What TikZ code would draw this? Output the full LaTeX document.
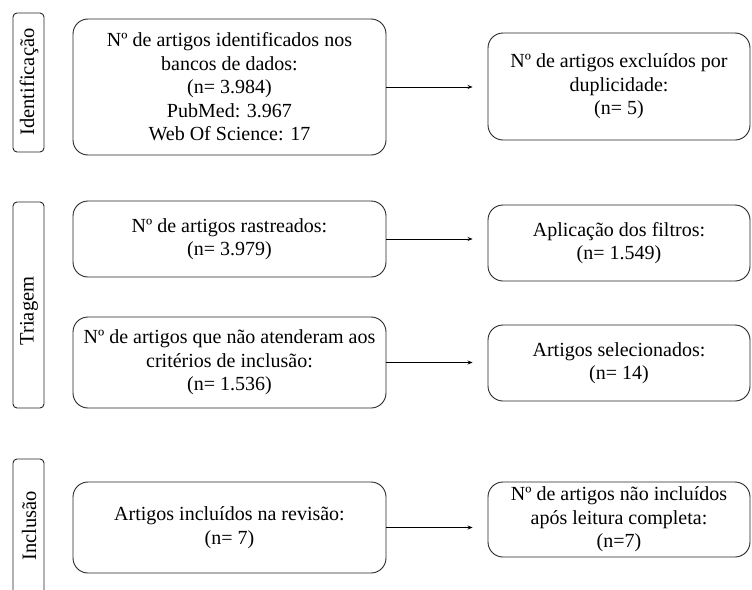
\documentclass[tikz,border=0pt]{standalone}
\usepackage{fontspec}
\setmainfont{Liberation Serif}
\usetikzlibrary{arrows.meta,calc}
\begin{document}
\begin{tikzpicture}[x=1pt,y=-1pt,
  every node/.style={font=\fontsize{20}{23.5}\selectfont},
  flowbox/.style={draw=black!85, line width=0.9pt, rounded corners=15pt, inner sep=0pt, align=center, minimum width=313pt},
  rbox/.style={flowbox, minimum width=262pt},
  phase/.style={draw=black!85, line width=0.9pt, rounded corners=4pt, inner sep=0pt, minimum width=31pt},
  phasetext/.style={rotate=90, font=\fontsize{20.5}{24}\selectfont, inner sep=0pt},
  arr/.style={-{Stealth[length=5pt,width=4pt]}, line width=0.7pt, shorten >=15pt}]
\useasboundingbox (0,0) rectangle (752,589);
% phase labels
\node[phase, minimum height=139pt] (pid) at (28.5,82.5) {};
\node[phasetext] (tid) at (29,82) {Identificação};
\node[phase, minimum height=206pt] (ptr) at (28.5,305) {};
\node[phasetext] (ttr) at (29,311) {Triagem};
\draw[draw=black!85, line width=0.9pt, rounded corners=4pt] (13,640) -- (13,459) -- (44,459) -- (44,640);
\node[phasetext] (tin) at (29,526) {Inclusão};
% boxes
\node[flowbox, minimum height=136pt] (b1) at (229.5,87) {Nº de artigos identificados nos\\bancos de dados:\\(n= 3.984)\\PubMed: 3.967\\Web Of Science: 17};
\node[rbox, minimum height=107pt] (b2) at (619,86.5) {Nº de artigos excluídos por\\duplicidade:\\(n= 5)};
\node[flowbox, minimum height=76pt] (b3) at (229.5,239) {Nº de artigos rastreados:\\(n= 3.979)};
\node[rbox, minimum height=76pt] (b4) at (619,243) {Aplicação dos filtros:\\(n= 1.549)};
\node[flowbox, minimum height=91pt] (b5) at (229.5,362.5) {Nº de artigos que não atenderam aos\\critérios de inclusão:\\(n= 1.536)};
\node[rbox, minimum height=76pt] (b6) at (619,363) {Artigos selecionados:\\(n= 14)};
\node[flowbox, minimum height=91pt] (b7) at (229.5,527.5) {Artigos incluídos na revisão:\\(n= 7)};
\node[rbox, minimum height=75pt] (b8) at (619,519.5) {Nº de artigos não incluídos\\após leitura completa:\\(n=7)};
% arrows
\draw[arr] (b1.east) -- (b1.east -| b2.west);
\draw[arr] (b3.east) -- (b3.east -| b4.west);
\draw[arr] (b5.east) -- (b5.east -| b6.west);
\draw[arr] (b7.east) -- (b7.east -| b8.west);
\end{tikzpicture}
\end{document}
